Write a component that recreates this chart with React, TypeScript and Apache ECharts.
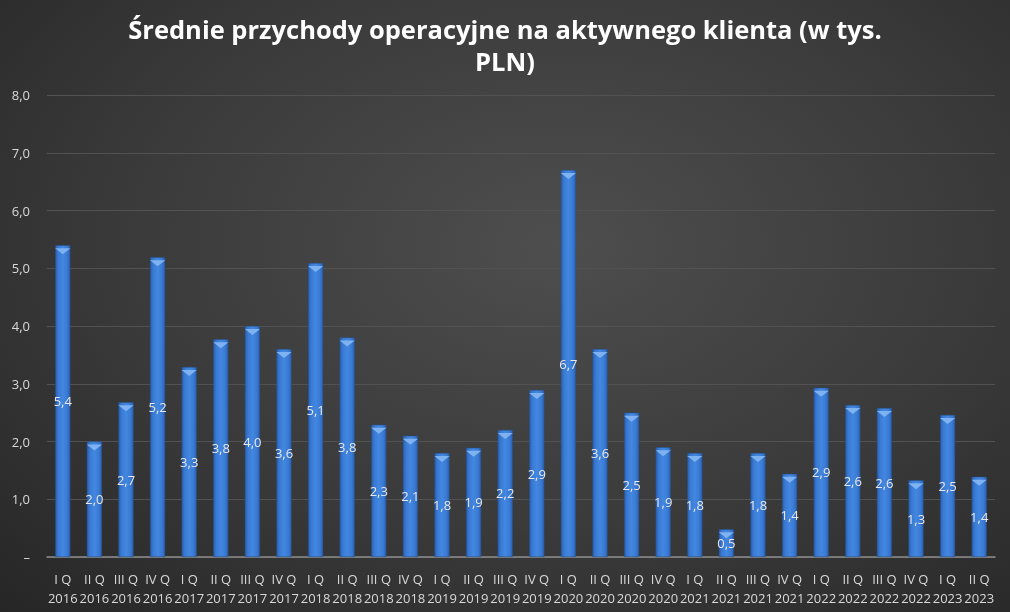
import React, { useEffect, useRef } from "react";
import * as echarts from "echarts";

const quarters = ["I Q", "II Q", "III Q", "IV Q", "I Q", "II Q", "III Q", "IV Q", "I Q", "II Q", "III Q", "IV Q", "I Q", "II Q", "III Q", "IV Q", "I Q", "II Q", "III Q", "IV Q", "I Q", "II Q", "III Q", "IV Q", "I Q", "II Q", "III Q", "IV Q", "I Q", "II Q"];
const years = ["2016", "2016", "2016", "2016", "2017", "2017", "2017", "2017", "2018", "2018", "2018", "2018", "2019", "2019", "2019", "2019", "2020", "2020", "2020", "2020", "2021", "2021", "2021", "2021", "2022", "2022", "2022", "2022", "2023", "2023"];
const values = [5.4, 2.0, 2.68, 5.19, 3.29, 3.77, 4.0, 3.6, 5.09, 3.8, 2.29, 2.1, 1.8, 1.89, 2.2, 2.89, 6.7, 3.6, 2.5, 1.9, 1.8, 0.48, 1.8, 1.44, 2.93, 2.63, 2.58, 1.33, 2.46, 1.39];
const titleText = "Średnie przychody operacyjne na aktywnego klienta (w tys.\nPLN)";

const fmt = (v: number) => (v === 0 ? "–" : v.toFixed(1).replace(".", ","));

export default function App() {
  const ref = useRef<HTMLDivElement>(null);
  useEffect(() => {
    if (!ref.current) return;
    const chart = echarts.init(ref.current, null, { renderer: "svg" });
    const categories = quarters.map((q, i) => q + "\n" + years[i]);
    chart.setOption({
      animation: false,
      backgroundColor: "transparent",
      title: {
        text: titleText,
        left: "center",
        top: 8,
        textStyle: {
          color: "#ffffff",
          fontFamily: "'Liberation Sans Narrow', 'Open Sans'",
          fontWeight: "bold",
          fontSize: 25.5,
          lineHeight: 32,
        },
      },
      grid: { left: 47, right: 15, top: 95, bottom: 55, containLabel: false },
      xAxis: {
        type: "category",
        data: categories,
        axisLine: { show: true, lineStyle: { color: "#8c8c8c", width: 1.5 } },
        axisTick: { show: false },
        axisLabel: {
          color: "#d9d9d9",
          fontFamily: "Open Sans",
          fontSize: 13,
          lineHeight: 19,
          margin: 12,
          interval: 0,
        },
      },
      yAxis: {
        type: "value",
        min: 0,
        max: 8,
        interval: 1,
        axisLine: { show: false },
        axisTick: { show: false },
        splitLine: { lineStyle: { color: "#525252", width: 1 } },
        axisLabel: {
          color: "#d9d9d9",
          fontFamily: "Open Sans",
          fontSize: 13,
          margin: 17,
          formatter: (v: number) => fmt(v),
        },
      },
      series: [
        {
          type: "bar",
          data: values,
          barWidth: "48%",
          itemStyle: {
            color: new echarts.graphic.LinearGradient(0, 0, 1, 0, [
              { offset: 0, color: "#2a5fae" },
              { offset: 0.2, color: "#3a7ad4" },
              { offset: 0.5, color: "#4287e0" },
              { offset: 0.8, color: "#3a7ad4" },
              { offset: 1, color: "#2a5fae" },
            ]),
            borderColor: "#24528f",
            borderWidth: 0.5,
          },
          label: {
            show: true,
            position: "inside",
            color: "#e8e8e8",
            fontFamily: "Open Sans",
            fontSize: 13,
            formatter: (p: any) => fmt(p.value),
          },
        },
        {
          type: "pictorialBar",
          data: values,
          symbol: "path://M0,0 L20,0 L10,6 Z",
          symbolSize: [15, 6],
          symbolPosition: "end",
          symbolOffset: [0, "50%"],
          itemStyle: { color: "#7fb2f0" },
          z: 3,
          silent: true,
        },
      ],
    });
    return () => chart.dispose();
  }, []);
  return (
    <div
      style={{
        position: "fixed",
        left: 0,
        top: 0,
        width: 1010,
        height: 612,
        background: "radial-gradient(ellipse at 55% 40%, #4e4e4e 0%, #3a3a3a 55%, #262626 100%)",
      }}
    >
      <div ref={ref} style={{ width: 1010, height: 612 }} />
    </div>
  );
}
